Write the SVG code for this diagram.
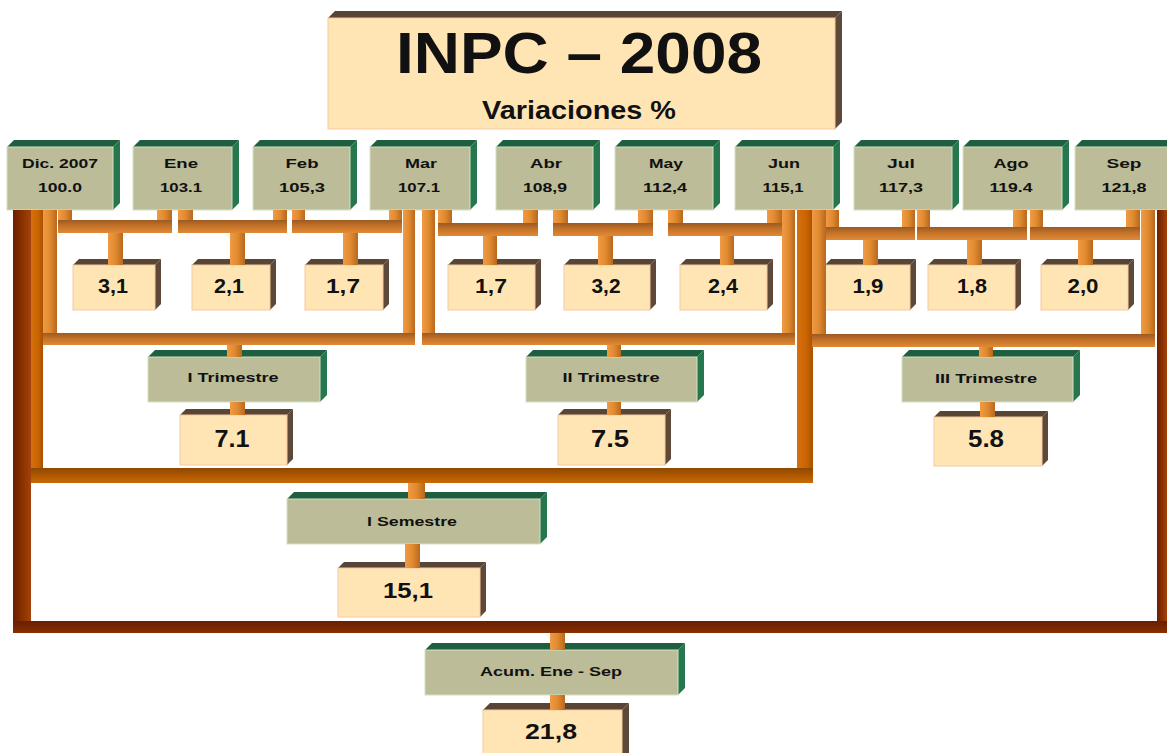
<svg xmlns="http://www.w3.org/2000/svg" width="1167" height="753" viewBox="0 0 1167 753">
<defs>
<linearGradient id="gov" x1="0" y1="0" x2="1" y2="0"><stop offset="0" stop-color="#f09a45"/><stop offset="0.5" stop-color="#e08a30"/><stop offset="1" stop-color="#b8681e"/></linearGradient>
<linearGradient id="goh" x1="0" y1="0" x2="0" y2="1"><stop offset="0" stop-color="#9c5a22"/><stop offset="0.45" stop-color="#c47228"/><stop offset="1" stop-color="#e08a35"/></linearGradient>
<linearGradient id="gsv" x1="0" y1="0" x2="1" y2="0"><stop offset="0" stop-color="#d67010"/><stop offset="0.6" stop-color="#c86400"/><stop offset="1" stop-color="#a85000"/></linearGradient>
<linearGradient id="gsh" x1="0" y1="0" x2="0" y2="1"><stop offset="0" stop-color="#8e4800"/><stop offset="0.5" stop-color="#b05800"/><stop offset="1" stop-color="#c86a08"/></linearGradient>
<linearGradient id="gav" x1="0" y1="0" x2="1" y2="0"><stop offset="0" stop-color="#6a2000"/><stop offset="0.5" stop-color="#8a3000"/><stop offset="1" stop-color="#a4420a"/></linearGradient>
<linearGradient id="gah" x1="0" y1="0" x2="0" y2="1"><stop offset="0" stop-color="#6a2000"/><stop offset="0.6" stop-color="#7a2800"/><stop offset="1" stop-color="#8a3000"/></linearGradient>
</defs>
<style>
.mf{fill:#bcbc98;stroke:#d2e2c6;stroke-width:1}
.mt{fill:#1f5f3f}
.ms{fill:#26774d}
.vf{fill:#ffe5b4;stroke:#f6c9a0;stroke-width:1}
.vt{fill:#594535}
.vs{fill:#5e4939}
.ov{fill:url(#gov)}
.oh{fill:url(#goh)}
.sv{fill:url(#gsv)}
.sh{fill:url(#gsh)}
.av{fill:url(#gav)}
.ah{fill:url(#gah)}
text{font-family:"Liberation Sans",Arial,sans-serif;font-weight:bold;fill:#111;text-anchor:middle}
.m{font-size:13.5px}
.v{font-size:20px}
.t{font-size:13.5px}
.tv{font-size:23px}
</style>
<rect width="1167" height="753" fill="#ffffff"/>

<g id="title">
<polygon class="vt" points="328,18 335,11 842,11 835,18"/>
<polygon class="vs" points="835,18 842,11 842,122 835,129"/>
<rect class="vf" x="328" y="18" width="507" height="111"/>
<text x="579" y="73" font-size="57" textLength="366" lengthAdjust="spacingAndGlyphs">INPC – 2008</text>
<text x="579" y="119" font-size="25" textLength="194" lengthAdjust="spacingAndGlyphs">Variaciones %</text>
</g>

<g id="m-dic"><polygon class="mt" points="7,147 14,140 120,140 113,147"/><polygon class="ms" points="113,147 120,140 120,203 113,210"/><rect class="mf" x="7" y="147" width="106" height="63"/><text class="m" x="60" y="168" textLength="76" lengthAdjust="spacingAndGlyphs">Dic. 2007</text><text class="m" x="60" y="192" textLength="44" lengthAdjust="spacingAndGlyphs">100.0</text></g>
<g id="m-ene"><polygon class="mt" points="133,147 140,140 239,140 232,147"/><polygon class="ms" points="232,147 239,140 239,203 232,210"/><rect class="mf" x="133" y="147" width="99" height="63"/><text class="m" x="181" y="168" textLength="34" lengthAdjust="spacingAndGlyphs">Ene</text><text class="m" x="181" y="192" textLength="42" lengthAdjust="spacingAndGlyphs">103.1</text></g>
<g id="m-feb"><polygon class="mt" points="253,147 260,140 357,140 350,147"/><polygon class="ms" points="350,147 357,140 357,203 350,210"/><rect class="mf" x="253" y="147" width="97" height="63"/><text class="m" x="302" y="168" textLength="33" lengthAdjust="spacingAndGlyphs">Feb</text><text class="m" x="302" y="192" textLength="46" lengthAdjust="spacingAndGlyphs">105,3</text></g>
<g id="m-mar"><polygon class="mt" points="370,147 377,140 477,140 470,147"/><polygon class="ms" points="470,147 477,140 477,203 470,210"/><rect class="mf" x="370" y="147" width="100" height="63"/><text class="m" x="421" y="168" textLength="32" lengthAdjust="spacingAndGlyphs">Mar</text><text class="m" x="419" y="192" textLength="42" lengthAdjust="spacingAndGlyphs">107.1</text></g>
<g id="m-abr"><polygon class="mt" points="496,147 503,140 600,140 593,147"/><polygon class="ms" points="593,147 600,140 600,203 593,210"/><rect class="mf" x="496" y="147" width="97" height="63"/><text class="m" x="546" y="168" textLength="32" lengthAdjust="spacingAndGlyphs">Abr</text><text class="m" x="545" y="192" textLength="44" lengthAdjust="spacingAndGlyphs">108,9</text></g>
<g id="m-may"><polygon class="mt" points="615,147 622,140 720,140 713,147"/><polygon class="ms" points="713,147 720,140 720,203 713,210"/><rect class="mf" x="615" y="147" width="98" height="63"/><text class="m" x="666" y="168" textLength="34" lengthAdjust="spacingAndGlyphs">May</text><text class="m" x="665" y="192" textLength="44" lengthAdjust="spacingAndGlyphs">112,4</text></g>
<g id="m-jun"><polygon class="mt" points="735,147 742,140 840,140 833,147"/><polygon class="ms" points="833,147 840,140 840,203 833,210"/><rect class="mf" x="735" y="147" width="98" height="63"/><text class="m" x="784" y="168" textLength="32" lengthAdjust="spacingAndGlyphs">Jun</text><text class="m" x="783" y="192" textLength="41" lengthAdjust="spacingAndGlyphs">115,1</text></g>
<g id="m-jul"><polygon class="mt" points="854,147 861,140 959,140 952,147"/><polygon class="ms" points="952,147 959,140 959,203 952,210"/><rect class="mf" x="854" y="147" width="98" height="63"/><text class="m" x="901" y="168" textLength="28" lengthAdjust="spacingAndGlyphs">Jul</text><text class="m" x="901" y="192" textLength="44" lengthAdjust="spacingAndGlyphs">117,3</text></g>
<g id="m-ago"><polygon class="mt" points="963,147 970,140 1069,140 1062,147"/><polygon class="ms" points="1062,147 1069,140 1069,203 1062,210"/><rect class="mf" x="963" y="147" width="99" height="63"/><text class="m" x="1011" y="168" textLength="35" lengthAdjust="spacingAndGlyphs">Ago</text><text class="m" x="1011" y="192" textLength="43" lengthAdjust="spacingAndGlyphs">119.4</text></g>
<g id="m-sep"><polygon class="mt" points="1075,147 1082,140 1180,140 1173,147"/><rect class="mf" x="1075" y="147" width="98" height="63"/><text class="m" x="1124" y="168" textLength="35" lengthAdjust="spacingAndGlyphs">Sep</text><text class="m" x="1124" y="192" textLength="45" lengthAdjust="spacingAndGlyphs">121,8</text></g>

<g id="v-ene"><polygon class="vt" points="73,265 79,259 161,259 155,265"/><polygon class="vs" points="155,265 161,259 161,304 155,310"/><rect class="vf" x="73" y="265" width="82" height="45"/><text class="v" x="113" y="293" textLength="30" lengthAdjust="spacingAndGlyphs">3,1</text></g>
<g id="v-feb"><polygon class="vt" points="192,265 198,259 276,259 270,265"/><polygon class="vs" points="270,265 276,259 276,304 270,310"/><rect class="vf" x="192" y="265" width="78" height="45"/><text class="v" x="229" y="293" textLength="30" lengthAdjust="spacingAndGlyphs">2,1</text></g>
<g id="v-mar"><polygon class="vt" points="305,265 311,259 389,259 383,265"/><polygon class="vs" points="383,265 389,259 389,304 383,310"/><rect class="vf" x="305" y="265" width="78" height="45"/><text class="v" x="343" y="293" textLength="34" lengthAdjust="spacingAndGlyphs">1,7</text></g>
<g id="v-abr"><polygon class="vt" points="448,265 454,259 541,259 535,265"/><polygon class="vs" points="535,265 541,259 541,304 535,310"/><rect class="vf" x="448" y="265" width="87" height="45"/><text class="v" x="491" y="293" textLength="32" lengthAdjust="spacingAndGlyphs">1,7</text></g>
<g id="v-may"><polygon class="vt" points="564,265 570,259 656,259 650,265"/><polygon class="vs" points="650,265 656,259 656,304 650,310"/><rect class="vf" x="564" y="265" width="86" height="45"/><text class="v" x="606" y="293" textLength="29" lengthAdjust="spacingAndGlyphs">3,2</text></g>
<g id="v-jun"><polygon class="vt" points="680,265 686,259 773,259 767,265"/><polygon class="vs" points="767,265 773,259 773,304 767,310"/><rect class="vf" x="680" y="265" width="87" height="45"/><text class="v" x="723" y="293" textLength="30" lengthAdjust="spacingAndGlyphs">2,4</text></g>
<g id="v-jul"><polygon class="vt" points="825,265 831,259 916,259 910,265"/><polygon class="vs" points="910,265 916,259 916,304 910,310"/><rect class="vf" x="825" y="265" width="85" height="45"/><text class="v" x="868" y="293" textLength="31" lengthAdjust="spacingAndGlyphs">1,9</text></g>
<g id="v-ago"><polygon class="vt" points="928,265 934,259 1021,259 1015,265"/><polygon class="vs" points="1015,265 1021,259 1021,304 1015,310"/><rect class="vf" x="928" y="265" width="87" height="45"/><text class="v" x="972" y="293" textLength="30" lengthAdjust="spacingAndGlyphs">1,8</text></g>
<g id="v-sep"><polygon class="vt" points="1041,265 1047,259 1134,259 1128,265"/><polygon class="vs" points="1128,265 1134,259 1134,304 1128,310"/><rect class="vf" x="1041" y="265" width="87" height="45"/><text class="v" x="1083" y="293" textLength="31" lengthAdjust="spacingAndGlyphs">2,0</text></g>

<g id="q1"><polygon class="mt" points="148,357 155,350 327,350 320,357"/><polygon class="ms" points="320,357 327,350 327,395 320,402"/><rect class="mf" x="148" y="357" width="172" height="45"/><text class="t" x="233" y="382" textLength="91" lengthAdjust="spacingAndGlyphs">I Trimestre</text></g>
<g id="q2"><polygon class="mt" points="526,357 533,350 704,350 697,357"/><polygon class="ms" points="697,357 704,350 704,395 697,402"/><rect class="mf" x="526" y="357" width="171" height="45"/><text class="t" x="611" y="382" textLength="97" lengthAdjust="spacingAndGlyphs">II Trimestre</text></g>
<g id="q3"><polygon class="mt" points="902,357 909,350 1080,350 1073,357"/><polygon class="ms" points="1073,357 1080,350 1080,395 1073,402"/><rect class="mf" x="902" y="357" width="171" height="45"/><text class="t" x="986" y="383" textLength="102" lengthAdjust="spacingAndGlyphs">III Trimestre</text></g>

<g id="q1v"><polygon class="vt" points="180,415 186,409 293,409 287,415"/><polygon class="vs" points="287,415 293,409 293,459 287,465"/><rect class="vf" x="180" y="415" width="107" height="50"/><text class="tv" x="232" y="447" textLength="35" lengthAdjust="spacingAndGlyphs">7.1</text></g>
<g id="q2v"><polygon class="vt" points="558,415 564,409 671,409 665,415"/><polygon class="vs" points="665,415 671,409 671,459 665,465"/><rect class="vf" x="558" y="415" width="107" height="50"/><text class="tv" x="610" y="447" textLength="38" lengthAdjust="spacingAndGlyphs">7.5</text></g>
<g id="q3v"><polygon class="vt" points="934,417 940,411 1048,411 1042,417"/><polygon class="vs" points="1042,417 1048,411 1048,460 1042,466"/><rect class="vf" x="934" y="417" width="108" height="49"/><text class="tv" x="986" y="447" textLength="36" lengthAdjust="spacingAndGlyphs">5.8</text></g>

<g id="s1"><polygon class="mt" points="287,499 294,492 547,492 540,499"/><polygon class="ms" points="540,499 547,492 547,537 540,544"/><rect class="mf" x="287" y="499" width="253" height="45"/><text class="t" x="412" y="526" textLength="90" lengthAdjust="spacingAndGlyphs">I Semestre</text></g>
<g id="s1v"><polygon class="vt" points="338,568 344,562 486,562 480,568"/><polygon class="vs" points="480,568 486,562 486,611 480,617"/><rect class="vf" x="338" y="568" width="142" height="49"/><text x="408" y="598" font-size="22" textLength="50" lengthAdjust="spacingAndGlyphs">15,1</text></g>

<g id="acum"><polygon class="mt" points="425,650 432,643 685,643 678,650"/><polygon class="ms" points="678,650 685,643 685,688 678,695"/><rect class="mf" x="425" y="650" width="253" height="45"/><text x="551" y="676" font-size="13" textLength="142" lengthAdjust="spacingAndGlyphs">Acum. Ene - Sep</text></g>
<g id="acumv"><polygon class="vt" points="483,710 490,703 629,703 622,710"/><polygon class="vs" points="622,710 629,703 629,760 622,767"/><rect class="vf" x="483" y="710" width="139" height="57"/><text x="551" y="739" font-size="22" textLength="52" lengthAdjust="spacingAndGlyphs">21,8</text></g>

<g id="connectors">
<!-- acumulado -->
<rect class="av" x="13" y="210" width="18" height="423"/>
<rect class="av" x="1157" y="210" width="10" height="423"/>
<rect class="ah" x="13" y="621" width="1154" height="12"/>
<rect class="ov" x="550" y="633" width="15" height="17"/>
<rect class="ov" x="550" y="695" width="15" height="15"/>
<!-- semestre -->
<rect class="sv" x="31" y="210" width="12" height="273"/>
<rect class="sv" x="797" y="210" width="16" height="273"/>
<rect class="sh" x="31" y="468" width="782" height="15"/>
<rect class="ov" x="408" y="483" width="17" height="16"/>
<rect class="ov" x="405" y="544" width="15" height="24"/>
<!-- trimestres -->
<rect class="ov" x="43" y="210" width="14" height="135"/>
<rect class="ov" x="403" y="210" width="12" height="135"/>
<rect class="oh" x="43" y="333" width="372" height="12"/>
<rect class="ov" x="227" y="345" width="15" height="12"/>
<rect class="ov" x="230" y="402" width="15" height="13"/>
<rect class="ov" x="422" y="210" width="13" height="135"/>
<rect class="ov" x="782" y="210" width="13" height="135"/>
<rect class="oh" x="422" y="333" width="373" height="12"/>
<rect class="ov" x="607" y="345" width="14" height="12"/>
<rect class="ov" x="607" y="402" width="14" height="13"/>
<rect class="ov" x="812" y="210" width="14" height="137"/>
<rect class="ov" x="1141" y="210" width="14" height="137"/>
<rect class="oh" x="812" y="334" width="343" height="13"/>
<rect class="ov" x="979" y="347" width="14" height="10"/>
<rect class="ov" x="980" y="402" width="15" height="15"/>
<!-- meses -->
<rect class="ov" x="58" y="210" width="14" height="23"/><rect class="ov" x="157" y="210" width="15" height="23"/><rect class="oh" x="58" y="220" width="114" height="13"/><rect class="ov" x="108" y="233" width="15" height="32"/>
<rect class="ov" x="178" y="210" width="15" height="23"/><rect class="ov" x="273" y="210" width="14" height="23"/><rect class="oh" x="178" y="220" width="109" height="13"/><rect class="ov" x="230" y="233" width="15" height="32"/>
<rect class="ov" x="292" y="210" width="13" height="23"/><rect class="ov" x="389" y="210" width="13" height="23"/><rect class="oh" x="292" y="220" width="110" height="13"/><rect class="ov" x="343" y="233" width="15" height="32"/>
<rect class="ov" x="438" y="210" width="14" height="26"/><rect class="ov" x="523" y="210" width="15" height="26"/><rect class="oh" x="438" y="223" width="100" height="13"/><rect class="ov" x="483" y="236" width="14" height="29"/>
<rect class="ov" x="553" y="210" width="15" height="26"/><rect class="ov" x="638" y="210" width="15" height="26"/><rect class="oh" x="553" y="223" width="100" height="13"/><rect class="ov" x="598" y="236" width="15" height="29"/>
<rect class="ov" x="668" y="210" width="15" height="26"/><rect class="ov" x="767" y="210" width="15" height="26"/><rect class="oh" x="668" y="223" width="114" height="13"/><rect class="ov" x="720" y="236" width="14" height="29"/>
<rect class="ov" x="826" y="210" width="13" height="30"/><rect class="ov" x="902" y="210" width="13" height="30"/><rect class="oh" x="826" y="227" width="89" height="13"/><rect class="ov" x="863" y="240" width="15" height="25"/>
<rect class="ov" x="917" y="210" width="13" height="30"/><rect class="ov" x="1013" y="210" width="14" height="30"/><rect class="oh" x="917" y="227" width="110" height="13"/><rect class="ov" x="967" y="240" width="15" height="25"/>
<rect class="ov" x="1030" y="210" width="13" height="30"/><rect class="ov" x="1126" y="210" width="14" height="30"/><rect class="oh" x="1030" y="227" width="110" height="13"/><rect class="ov" x="1078" y="240" width="15" height="25"/>
</g>
</svg>
